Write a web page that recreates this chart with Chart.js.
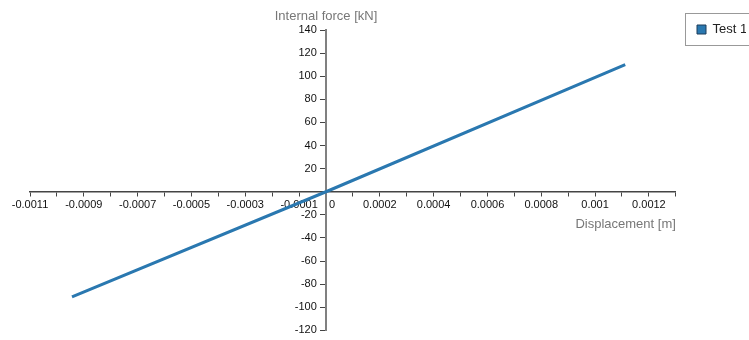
<!DOCTYPE html>
<html>
<head>
<meta charset="utf-8">
<script src="https://cdn.jsdelivr.net/npm/chart.js@4/dist/chart.umd.min.js"></script>
<style>
  html, body { margin: 0; padding: 0; background: #fff; }
  #wrap { width: 749px; height: 340px; position: relative; }
</style>
</head>
<body>
<div id="wrap"><canvas id="forceChart"></canvas></div>
<script>
const seriesName = "Test 1";
const displacement = [-0.000944, 0, 0.001112];
const internalForce = [-91, 0, 110];

const xTitle = "Displacement [m]";
const yTitle = "Internal force [kN]";

// x ticks every 0.0001, but only these carry a label
const xLabelValues = [-0.0011, -0.0009, -0.0007, -0.0005, -0.0003, -0.0001,
  0, 0.0002, 0.0004, 0.0006, 0.0008, 0.001, 0.0012];
const xRange = [-0.0011, 0.0013];
const yRange = [-120, 140];

const lineColor = "#2a78b0";

Chart.defaults.font.family = "'Liberation Sans', Arial, sans-serif";

// y title over the axis, legend moved to the top right with a frame
const axisDecor = {
  id: "axisDecor",
  beforeDraw(chart) {
    chart.legend.left = 687;
    chart.legend.top = 13;
  },
  afterDraw(chart) {
    const { ctx, scales, legend } = chart;
    ctx.save();
    ctx.font = "13px 'Liberation Sans', Arial, sans-serif";
    ctx.fillStyle = "#777";
    ctx.textAlign = "center";
    ctx.textBaseline = "middle";
    ctx.fillText(yTitle, scales.x.getPixelForValue(0), 16);
    ctx.strokeStyle = "#999";
    ctx.lineWidth = 1;
    ctx.strokeRect(legend.left - 1.5, legend.top + 0.5, 80, 32);
    ctx.restore();
  }
};

new Chart(document.getElementById("forceChart").getContext("2d"), {
  type: "scatter",
  data: {
    datasets: [{
      label: seriesName,
      data: displacement.map((d, i) => ({ x: d, y: internalForce[i] })),
      showLine: true,
      borderColor: lineColor,
      backgroundColor: lineColor,
      borderWidth: 3,
      pointRadius: 0,
      tension: 0
    }]
  },
  options: {
    responsive: true,
    maintainAspectRatio: false,
    animation: false,
    layout: { padding: { left: 30, top: 30, right: 3, bottom: 6 } },
    plugins: {
      tooltip: { enabled: false },
      legend: {
        position: "right",
        align: "start",
        labels: {
          boxWidth: 9,
          boxHeight: 9,
          padding: 10,
          color: "#222",
          font: { size: 13 },
          generateLabels(chart) {
            const items = Chart.defaults.plugins.legend.labels.generateLabels(chart);
            items.forEach(it => { it.strokeStyle = "#1c3d5a"; it.lineWidth = 1; });
            return items;
          }
        }
      }
    },
    scales: {
      x: {
        type: "linear",
        position: { y: 0 },
        min: xRange[0],
        max: xRange[1],
        border: { color: "#444", width: 1.5 },
        grid: { drawOnChartArea: false, tickLength: 4, color: "#444" },
        ticks: {
          stepSize: 0.0001,
          autoSkip: false,
          maxRotation: 0,
          padding: 3,
          color: "#111",
          font: { size: 11 },
          callback(value) {
            const v = Math.round(value * 10000) / 10000;
            if (!xLabelValues.includes(v)) return "";
            return v === 0 ? "    0" : String(v);
          }
        },
        title: {
          display: true,
          text: xTitle,
          align: "end",
          color: "#777",
          font: { size: 13 },
          padding: { top: 2, bottom: 0 }
        }
      },
      y: {
        type: "linear",
        position: { x: 0 },
        min: yRange[0],
        max: yRange[1],
        border: { color: "#808080", width: 2 },
        grid: { drawOnChartArea: false, tickLength: 5, color: "#444" },
        ticks: {
          stepSize: 20,
          autoSkip: false,
          color: "#111",
          font: { size: 11 },
          // labels sit right against the axis here, so pad with spaces
          callback: value => (value === 0 ? "" : value + "   ")
        }
      }
    }
  },
  plugins: [axisDecor]
});
</script>
</body>
</html>
